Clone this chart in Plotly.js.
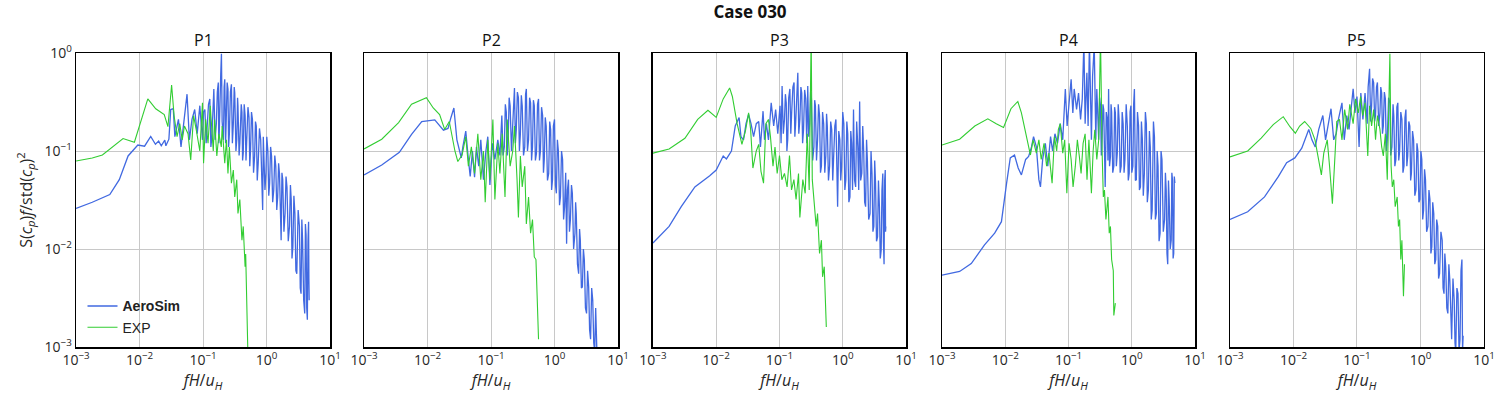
<!DOCTYPE html>
<html>
<head>
<meta charset="utf-8">
<script src="https://cdn.plot.ly/plotly-3.0.1.min.js"></script>
<style>html,body{margin:0;padding:0;background:#fff;}#chart{width:1500px;height:400px;}</style>
</head>
<body>
<div id="chart"></div>
<script>
// ---- data: [fH/uH, S(cp)f/std(cp)^2] pairs ----
const panelNames = ["P1", "P2", "P3", "P4", "P5"];
const seriesNames = ["AeroSim", "EXP"];
const xTickVals = [0.001, 0.01, 0.1, 1, 10];
const xTickText = ["10<sup>−3</sup>", "10<sup>−2</sup>", "10<sup>−1</sup>", "10<sup>0</sup>", "10<sup>1</sup>"];
const yTickVals = [0.001, 0.01, 0.1, 1];
const yTickText = ["10<sup>−3</sup>", "10<sup>−2</sup>", "10<sup>−1</sup>", "10<sup>0</sup>"];

const p1Sim = [[0.001,0.026],[0.0018,0.030],[0.0034,0.036],[0.0048,0.051],[0.0066,0.089],[0.0094,0.115],[0.012,0.112],[0.015,0.141],[0.0178,0.117],[0.020,0.126],[0.022,0.113],[0.025,0.129],[0.026,0.113],[0.029,0.132],[0.031,0.265],[0.034,0.27],[0.036,0.14],[0.041,0.21],[0.045,0.11],[0.049,0.19],[0.056,0.38],[0.061,0.13],[0.067,0.21],[0.074,0.265],[0.081,0.15],[0.089,0.29],[0.098,0.13],[0.102,0.25],[0.107,0.265],[0.112,0.12],[0.117,0.19],[0.122,0.3],[0.128,0.34],[0.133,0.11],[0.138,0.14],[0.143,0.35],[0.148,0.43],[0.155,0.13],[0.162,0.19],[0.168,0.4],[0.174,0.5],[0.177,0.12],[0.18,0.15],[0.19,0.6],[0.195,0.98],[0.2,0.2],[0.21,0.13],[0.215,0.45],[0.22,0.54],[0.227,0.12],[0.234,0.21],[0.24,0.5],[0.247,0.43],[0.253,0.11],[0.26,0.15],[0.27,0.4],[0.28,0.48],[0.29,0.12],[0.3,0.19],[0.31,0.45],[0.316,0.39],[0.33,0.1],[0.34,0.13],[0.35,0.35],[0.355,0.29],[0.37,0.09],[0.38,0.12],[0.4,0.3],[0.41,0.25],[0.42,0.08],[0.43,0.095],[0.445,0.3],[0.46,0.23],[0.475,0.08],[0.49,0.12],[0.51,0.28],[0.53,0.22],[0.545,0.07],[0.56,0.10],[0.58,0.25],[0.6,0.21],[0.625,0.06],[0.65,0.089],[0.67,0.2],[0.69,0.18],[0.715,0.05],[0.74,0.075],[0.775,0.17],[0.81,0.13],[0.84,0.06],[0.87,0.025],[0.89,0.14],[0.91,0.095],[0.945,0.04],[0.98,0.059],[1.01,0.14],[1.05,0.10],[1.085,0.035],[1.12,0.047],[1.16,0.11],[1.2,0.089],[1.25,0.03],[1.3,0.040],[1.35,0.09],[1.4,0.07],[1.45,0.025],[1.5,0.034],[1.55,0.075],[1.6,0.059],[1.65,0.02],[1.7,0.0123],[1.75,0.06],[1.8,0.051],[1.88,0.015],[1.96,0.023],[2.03,0.055],[2.1,0.043],[2.2,0.012],[2.3,0.017],[2.38,0.045],[2.45,0.032],[2.52,0.008],[2.6,0.0105],[2.7,0.035],[2.8,0.023],[2.9,0.006],[3.0,0.0056],[3.15,0.025],[3.3,0.017],[3.4,0.004],[3.5,0.0035],[3.6,0.02],[3.7,0.0123],[3.85,0.003],[4.0,0.0022],[4.1,0.018],[4.2,0.014],[4.3,0.0025],[4.4,0.0019],[4.5,0.012],[4.6,0.019],[4.65,0.005],[4.7,0.003]];
const p1Exp = [[0.001,0.079],[0.0018,0.085],[0.0026,0.091],[0.0055,0.134],[0.0083,0.123],[0.01,0.18],[0.0135,0.34],[0.018,0.27],[0.0245,0.235],[0.028,0.177],[0.032,0.47],[0.035,0.23],[0.039,0.14],[0.043,0.19],[0.047,0.13],[0.051,0.18],[0.058,0.15],[0.064,0.081],[0.071,0.23],[0.078,0.166],[0.089,0.10],[0.098,0.31],[0.102,0.075],[0.11,0.21],[0.12,0.12],[0.13,0.29],[0.145,0.10],[0.152,0.21],[0.165,0.089],[0.178,0.15],[0.194,0.11],[0.2,0.18],[0.22,0.075],[0.234,0.13],[0.247,0.059],[0.26,0.11],[0.28,0.047],[0.3,0.064],[0.316,0.034],[0.34,0.051],[0.355,0.023],[0.38,0.032],[0.41,0.0123],[0.43,0.017],[0.46,0.0066],[0.47,0.0089],[0.49,0.0028],[0.51,0.0008]];

const p2Sim = [[0.001,0.057],[0.0019,0.072],[0.0036,0.097],[0.0056,0.148],[0.0081,0.2],[0.013,0.208],[0.0178,0.163],[0.021,0.17],[0.0234,0.22],[0.026,0.275],[0.029,0.13],[0.031,0.11],[0.034,0.085],[0.036,0.11],[0.04,0.16],[0.044,0.082],[0.047,0.055],[0.051,0.1],[0.055,0.054],[0.059,0.11],[0.064,0.07],[0.069,0.13],[0.076,0.051],[0.083,0.1],[0.089,0.14],[0.096,0.045],[0.105,0.12],[0.115,0.082],[0.128,0.13],[0.138,0.09],[0.148,0.23],[0.155,0.09],[0.162,0.11],[0.168,0.3],[0.174,0.25],[0.18,0.09],[0.187,0.15],[0.193,0.35],[0.2,0.29],[0.21,0.1],[0.22,0.19],[0.227,0.38],[0.234,0.44],[0.242,0.12],[0.25,0.165],[0.26,0.4],[0.27,0.35],[0.28,0.1],[0.29,0.15],[0.3,0.37],[0.31,0.29],[0.325,0.09],[0.34,0.11],[0.35,0.38],[0.36,0.43],[0.375,0.1],[0.39,0.13],[0.405,0.35],[0.42,0.31],[0.435,0.08],[0.45,0.11],[0.465,0.33],[0.48,0.29],[0.5,0.08],[0.52,0.095],[0.54,0.3],[0.56,0.34],[0.58,0.08],[0.6,0.1],[0.625,0.28],[0.65,0.23],[0.67,0.06],[0.69,0.082],[0.715,0.22],[0.74,0.18],[0.775,0.05],[0.81,0.059],[0.84,0.2],[0.87,0.165],[0.9,0.04],[0.93,0.051],[0.96,0.18],[1.0,0.21],[1.035,0.045],[1.07,0.037],[1.11,0.13],[1.15,0.1],[1.2,0.028],[1.24,0.034],[1.29,0.1],[1.34,0.082],[1.39,0.02],[1.44,0.027],[1.5,0.06],[1.55,0.0113],[1.6,0.04],[1.66,0.051],[1.72,0.015],[1.78,0.02],[1.85,0.045],[1.91,0.037],[2.0,0.01],[2.1,0.0145],[2.15,0.03],[2.2,0.023],[2.3,0.007],[2.4,0.0056],[2.48,0.016],[2.55,0.0123],[2.65,0.004],[2.75,0.0041],[2.85,0.01],[2.95,0.0077],[3.07,0.0025],[3.2,0.0022],[3.32,0.006],[3.45,0.0041],[3.57,0.0015],[3.7,0.0012],[3.85,0.004],[4.0,0.003],[4.15,0.0011],[4.3,0.0009],[4.45,0.0025],[4.6,0.0016],[4.7,0.0007],[4.8,0.0008]];
const p2Exp = [[0.001,0.105],[0.0019,0.132],[0.0035,0.195],[0.0056,0.30],[0.0096,0.35],[0.0123,0.275],[0.0155,0.235],[0.0186,0.166],[0.022,0.2],[0.027,0.1],[0.030,0.078],[0.035,0.091],[0.04,0.14],[0.044,0.07],[0.049,0.11],[0.055,0.059],[0.062,0.15],[0.069,0.051],[0.076,0.10],[0.081,0.030],[0.089,0.13],[0.096,0.051],[0.107,0.21],[0.115,0.032],[0.128,0.12],[0.138,0.059],[0.15,0.15],[0.166,0.034],[0.18,0.21],[0.2,0.07],[0.22,0.10],[0.234,0.18],[0.257,0.051],[0.27,0.021],[0.29,0.089],[0.31,0.043],[0.34,0.07],[0.36,0.018],[0.39,0.034],[0.42,0.0145],[0.45,0.02],[0.48,0.0083],[0.51,0.0078],[0.54,0.0032],[0.56,0.0012]];

const p3Sim = [[0.001,0.0115],[0.0018,0.017],[0.0028,0.027],[0.0046,0.043],[0.0079,0.056],[0.01,0.064],[0.0129,0.089],[0.0145,0.083],[0.0174,0.10],[0.02,0.18],[0.023,0.22],[0.0246,0.14],[0.027,0.13],[0.0296,0.19],[0.0325,0.236],[0.0355,0.19],[0.039,0.14],[0.043,0.19],[0.047,0.2],[0.05,0.11],[0.055,0.255],[0.058,0.13],[0.062,0.19],[0.067,0.13],[0.074,0.31],[0.081,0.18],[0.087,0.265],[0.094,0.15],[0.102,0.29],[0.106,0.12],[0.11,0.46],[0.115,0.15],[0.12,0.21],[0.124,0.38],[0.128,0.31],[0.131,0.1],[0.135,0.13],[0.14,0.35],[0.146,0.43],[0.151,0.15],[0.156,0.25],[0.163,0.45],[0.17,0.5],[0.175,0.14],[0.18,0.19],[0.188,0.4],[0.195,0.63],[0.202,0.15],[0.21,0.21],[0.218,0.45],[0.225,0.39],[0.232,0.12],[0.24,0.165],[0.25,0.42],[0.26,0.34],[0.27,0.12],[0.28,0.46],[0.29,0.14],[0.3,0.19],[0.31,0.4],[0.32,0.34],[0.335,0.08],[0.35,0.11],[0.36,0.33],[0.37,0.29],[0.385,0.08],[0.4,0.13],[0.415,0.3],[0.43,0.23],[0.445,0.06],[0.46,0.07],[0.48,0.25],[0.5,0.19],[0.52,0.06],[0.54,0.089],[0.555,0.24],[0.57,0.18],[0.595,0.05],[0.62,0.07],[0.645,0.2],[0.67,0.165],[0.695,0.05],[0.72,0.082],[0.75,0.18],[0.78,0.21],[0.805,0.04],[0.83,0.027],[0.865,0.16],[0.9,0.13],[0.93,0.05],[0.96,0.07],[1.0,0.25],[1.04,0.19],[1.08,0.04],[1.12,0.051],[1.16,0.2],[1.2,0.15],[1.25,0.03],[1.3,0.034],[1.34,0.16],[1.38,0.12],[1.43,0.04],[1.48,0.265],[1.54,0.05],[1.6,0.043],[1.66,0.2],[1.73,0.11],[1.79,0.04],[1.85,0.32],[1.92,0.05],[2.0,0.059],[2.07,0.18],[2.15,0.095],[2.22,0.03],[2.3,0.027],[2.38,0.13],[2.45,0.082],[2.57,0.02],[2.7,0.023],[2.8,0.1],[2.9,0.059],[3.0,0.015],[3.1,0.017],[3.2,0.08],[3.3,0.047],[3.42,0.012],[3.55,0.0133],[3.67,0.05],[3.8,0.027],[3.92,0.008],[4.05,0.0097],[4.17,0.04],[4.3,0.059],[4.4,0.012],[4.5,0.007],[4.6,0.05],[4.7,0.064],[4.75,0.015],[4.8,0.017]];
const p3Exp = [[0.001,0.095],[0.0018,0.105],[0.0032,0.135],[0.0051,0.21],[0.0074,0.26],[0.01,0.22],[0.0129,0.34],[0.0163,0.44],[0.018,0.36],[0.0214,0.19],[0.0255,0.117],[0.029,0.16],[0.0325,0.245],[0.035,0.166],[0.038,0.067],[0.043,0.1],[0.047,0.117],[0.051,0.062],[0.056,0.047],[0.061,0.19],[0.067,0.21],[0.072,0.14],[0.079,0.07],[0.085,0.11],[0.092,0.059],[0.1,0.09],[0.109,0.051],[0.12,0.059],[0.132,0.043],[0.144,0.09],[0.155,0.04],[0.169,0.051],[0.183,0.032],[0.2,0.059],[0.21,0.021],[0.234,0.051],[0.255,0.037],[0.275,0.15],[0.295,0.04],[0.317,1.5],[0.33,0.051],[0.355,0.027],[0.38,0.017],[0.4,0.023],[0.43,0.009],[0.46,0.0123],[0.48,0.0052],[0.51,0.0066],[0.55,0.0016]];

const p4Sim = [[0.001,0.0054],[0.0019,0.0059],[0.0029,0.0071],[0.0047,0.011],[0.0068,0.0145],[0.0087,0.019],[0.0105,0.047],[0.012,0.085],[0.014,0.091],[0.016,0.067],[0.018,0.057],[0.021,0.082],[0.0234,0.088],[0.026,0.11],[0.028,0.14],[0.031,0.11],[0.034,0.051],[0.036,0.043],[0.039,0.082],[0.043,0.12],[0.047,0.07],[0.052,0.14],[0.056,0.1],[0.061,0.15],[0.067,0.12],[0.074,0.19],[0.081,0.13],[0.089,0.43],[0.095,0.18],[0.104,0.36],[0.11,0.54],[0.117,0.245],[0.123,0.43],[0.134,0.265],[0.144,0.39],[0.155,0.21],[0.165,0.34],[0.175,1.3],[0.183,0.19],[0.195,0.63],[0.204,0.18],[0.214,1.3],[0.23,0.13],[0.24,0.58],[0.255,1.2],[0.27,0.13],[0.28,0.43],[0.30,0.13],[0.31,0.35],[0.32,0.29],[0.33,0.09],[0.34,0.14],[0.35,0.3],[0.36,0.265],[0.37,0.1],[0.38,0.043],[0.395,0.25],[0.41,0.21],[0.42,0.08],[0.43,0.43],[0.445,0.07],[0.46,0.088],[0.47,0.3],[0.48,0.25],[0.5,0.06],[0.52,0.07],[0.535,0.28],[0.55,0.245],[0.57,0.07],[0.59,0.095],[0.61,0.3],[0.63,0.21],[0.655,0.06],[0.68,0.07],[0.705,0.25],[0.73,0.19],[0.755,0.06],[0.78,0.082],[0.815,0.3],[0.85,0.18],[0.88,0.05],[0.91,0.059],[0.94,0.25],[0.97,0.29],[1.0,0.06],[1.04,0.07],[1.07,0.3],[1.1,0.43],[1.14,0.05],[1.18,0.051],[1.23,0.25],[1.28,0.18],[1.32,0.04],[1.37,0.043],[1.42,0.2],[1.47,0.13],[1.52,0.035],[1.58,0.059],[1.64,0.25],[1.7,0.19],[1.76,0.03],[1.83,0.04],[1.9,0.16],[1.96,0.11],[2.03,0.02],[2.1,0.025],[2.2,0.2],[2.28,0.14],[2.36,0.02],[2.45,0.023],[2.52,0.1],[2.6,0.07],[2.7,0.012],[2.8,0.0145],[2.9,0.1],[3.0,0.082],[3.15,0.015],[3.3,0.02],[3.4,0.06],[3.5,0.04],[3.6,0.009],[3.7,0.007],[3.8,0.05],[3.9,0.032],[4.05,0.01],[4.2,0.0123],[4.3,0.06],[4.4,0.051],[4.5,0.008],[4.6,0.009],[4.7,0.055],[4.8,0.047]];
const p4Exp = [[0.001,0.115],[0.0019,0.132],[0.0033,0.18],[0.0053,0.213],[0.0072,0.19],[0.0094,0.174],[0.0123,0.27],[0.0158,0.32],[0.018,0.245],[0.0214,0.14],[0.025,0.091],[0.0275,0.13],[0.031,0.095],[0.034,0.13],[0.037,0.082],[0.041,0.12],[0.045,0.07],[0.049,0.095],[0.055,0.047],[0.06,0.14],[0.065,0.1],[0.069,0.165],[0.074,0.19],[0.081,0.095],[0.087,0.13],[0.094,0.037],[0.102,0.12],[0.11,0.082],[0.118,0.043],[0.128,0.07],[0.138,0.13],[0.148,0.089],[0.158,0.059],[0.17,0.12],[0.183,0.15],[0.196,0.051],[0.21,0.13],[0.23,0.037],[0.245,0.1],[0.26,0.165],[0.28,0.082],[0.3,0.13],[0.32,1.5],[0.34,0.095],[0.355,0.034],[0.37,0.04],[0.39,0.02],[0.42,0.034],[0.44,0.0145],[0.46,0.017],[0.48,0.0078],[0.51,0.006],[0.52,0.0021],[0.55,0.0028]];

const p5Sim = [[0.001,0.020],[0.0019,0.024],[0.0035,0.034],[0.0058,0.055],[0.0078,0.076],[0.0105,0.085],[0.0135,0.107],[0.0155,0.14],[0.0174,0.166],[0.0195,0.13],[0.022,0.11],[0.025,0.166],[0.029,0.23],[0.032,0.13],[0.0355,0.19],[0.039,0.27],[0.043,0.13],[0.047,0.15],[0.051,0.21],[0.058,0.31],[0.063,0.13],[0.069,0.23],[0.075,0.166],[0.081,0.29],[0.087,0.43],[0.093,0.245],[0.1,0.36],[0.108,0.11],[0.115,0.39],[0.124,0.21],[0.134,0.39],[0.145,0.19],[0.15,0.45],[0.158,0.69],[0.164,0.2],[0.17,0.29],[0.176,0.55],[0.183,0.5],[0.19,0.2],[0.196,0.23],[0.203,0.45],[0.21,0.5],[0.22,0.18],[0.23,0.245],[0.237,0.45],[0.245,0.39],[0.252,0.15],[0.26,0.18],[0.27,0.4],[0.28,0.34],[0.29,0.1],[0.3,0.13],[0.315,0.35],[0.33,0.31],[0.34,0.09],[0.355,0.11],[0.37,0.3],[0.38,0.23],[0.395,0.07],[0.41,0.082],[0.425,0.28],[0.44,0.31],[0.455,0.08],[0.47,0.1],[0.49,0.25],[0.51,0.21],[0.53,0.06],[0.55,0.07],[0.57,0.22],[0.59,0.265],[0.61,0.07],[0.63,0.089],[0.655,0.2],[0.68,0.18],[0.7,0.05],[0.72,0.059],[0.75,0.16],[0.78,0.13],[0.815,0.035],[0.85,0.04],[0.88,0.12],[0.91,0.1],[0.945,0.03],[0.98,0.032],[1.015,0.1],[1.05,0.082],[1.085,0.02],[1.12,0.025],[1.16,0.065],[1.2,0.051],[1.25,0.015],[1.31,0.017],[1.36,0.04],[1.41,0.032],[1.46,0.009],[1.51,0.0105],[1.56,0.03],[1.62,0.023],[1.68,0.007],[1.74,0.0078],[1.8,0.02],[1.87,0.017],[1.93,0.005],[2.0,0.0056],[2.1,0.015],[2.2,0.0123],[2.27,0.004],[2.35,0.0035],[2.42,0.009],[2.5,0.0066],[2.6,0.0025],[2.7,0.0022],[2.8,0.007],[2.9,0.0048],[3.0,0.0015],[3.1,0.0012],[3.25,0.005],[3.4,0.003],[3.5,0.0011],[3.6,0.0009],[3.75,0.004],[3.9,0.0035],[4.05,0.0009],[4.2,0.0012],[4.35,0.006],[4.5,0.0078],[4.6,0.0009],[4.7,0.0013]];
const p5Exp = [[0.001,0.087],[0.0019,0.1],[0.0031,0.135],[0.0048,0.186],[0.0069,0.224],[0.0088,0.177],[0.0107,0.152],[0.0125,0.18],[0.015,0.2],[0.0187,0.17],[0.0218,0.13],[0.025,0.075],[0.0275,0.057],[0.030,0.095],[0.034,0.13],[0.037,0.07],[0.041,0.029],[0.045,0.089],[0.048,0.2],[0.053,0.21],[0.058,0.13],[0.064,0.265],[0.071,0.166],[0.077,0.3],[0.087,0.19],[0.095,0.34],[0.105,0.245],[0.114,0.36],[0.123,0.23],[0.134,0.31],[0.148,0.089],[0.158,0.29],[0.17,0.18],[0.183,0.265],[0.196,0.13],[0.21,0.23],[0.23,0.166],[0.245,0.11],[0.26,0.089],[0.28,0.15],[0.3,0.051],[0.33,0.98],[0.345,0.07],[0.36,0.043],[0.38,0.051],[0.4,0.027],[0.43,0.034],[0.45,0.017],[0.47,0.02],[0.49,0.0078],[0.51,0.0123],[0.54,0.0033],[0.56,0.007]];

const simSeries = [p1Sim, p2Sim, p3Sim, p4Sim, p5Sim];
const expSeries = [p1Exp, p2Exp, p3Exp, p4Exp, p5Exp];

// ---- figure ----
const blue = "#4169E1", green = "#32CD32";
const domains = [[0.0507,0.2200],[0.2427,0.4120],[0.4353,0.6040],[0.6280,0.7967],[0.8200,0.9893]];
const yDom = [0.1325, 0.8675];
const fam = "Open Sans, Noto Sans, sans-serif";
const tickFont = {family: fam, size: 14, color: "#262626"};

const traces = [];
const layout = {
  width: 1500, height: 400,
  margin: {l: 0, r: 0, t: 0, b: 0},
  paper_bgcolor: "#fff", plot_bgcolor: "#fff",
  showlegend: true,
  title: {text: "<b>Case 030</b>", x: 0.5, xanchor: "center", y: 0.97, yanchor: "middle",
          font: {family: fam, size: 17, color: "#111"}},
  legend: {x: 0.055, y: 0.274, xanchor: "left", yanchor: "top", bgcolor: "rgba(0,0,0,0)",
           tracegroupgap: 0,
           font: {family: "Liberation Sans, Arial, sans-serif", size: 14, color: "#222"}},
  annotations: []
};

for (let i = 0; i < 5; i++) {
  const xa = "x" + (i ? i + 1 : ""), ya = "y" + (i ? i + 1 : "");
  traces.push({x: simSeries[i].map(p => p[0]), y: simSeries[i].map(p => p[1]), xaxis: xa, yaxis: ya,
    type: "scatter", mode: "lines", name: "<b>" + seriesNames[0] + "</b>",
    line: {color: blue, width: 1.3}, showlegend: i === 0});
  traces.push({x: expSeries[i].map(p => p[0]), y: expSeries[i].map(p => p[1]), xaxis: xa, yaxis: ya,
    type: "scatter", mode: "lines", name: seriesNames[1],
    line: {color: green, width: 1.1}, showlegend: i === 0});

  const xk = "xaxis" + (i ? i + 1 : ""), yk = "yaxis" + (i ? i + 1 : "");
  layout[xk] = {
    type: "log", range: [-3, 1], domain: domains[i], anchor: ya,
    tickmode: "array", tickvals: xTickVals, ticktext: xTickText, tickfont: tickFont, ticks: "",
    showline: true, mirror: true, linecolor: "#000", linewidth: 1.5,
    showgrid: true, gridcolor: "#c8c8c8", gridwidth: 1, zeroline: false,
    title: {text: "<i>fH</i>/<i>u<sub>H</sub></i>", standoff: 4,
            font: {family: fam, size: 16, color: "#262626"}}
  };
  layout[yk] = {
    type: "log", range: [-3, 0], domain: yDom, anchor: xa,
    tickmode: "array", tickvals: yTickVals, ticktext: yTickText, tickfont: tickFont, ticks: "",
    showticklabels: i === 0,
    showline: true, mirror: true, linecolor: "#000", linewidth: 1.5,
    showgrid: true, gridcolor: "#c8c8c8", gridwidth: 1, zeroline: false
  };
  if (i === 0) {
    layout[yk].title = {text: "S(<i>c<sub>p</sub></i>)<i>f</i>/std(<i>c<sub>p</sub></i>)<sup>2</sup>", standoff: 8,
      font: {family: fam, size: 16, color: "#262626"}};
  }
  layout.annotations.push({text: panelNames[i], xref: "paper", yref: "paper",
    x: (domains[i][0] + domains[i][1]) / 2, y: 0.9, xanchor: "center", yanchor: "middle",
    showarrow: false, font: {family: fam, size: 16, color: "#111"}});
}

Plotly.newPlot("chart", traces, layout, {staticPlot: true, displayModeBar: false});
</script>
</body>
</html>
